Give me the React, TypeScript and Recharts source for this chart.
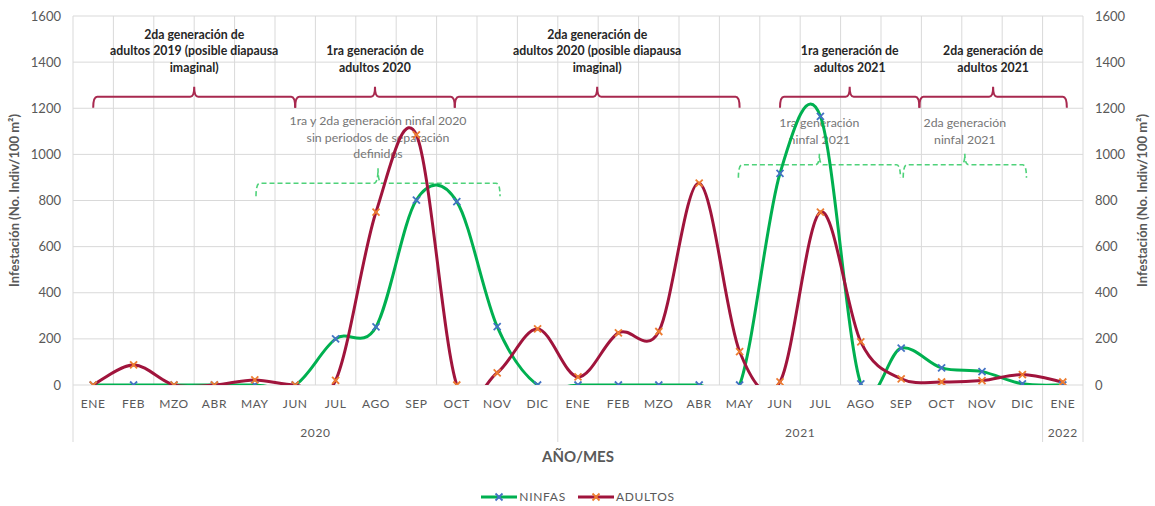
import { CartesianGrid, Label, Legend, Line, LineChart, ReferenceLine, XAxis, YAxis } from "recharts"

const months = [
  "ENE", "FEB", "MZO", "ABR", "MAY", "JUN", "JUL", "AGO", "SEP", "OCT", "NOV", "DIC",
  "ENE", "FEB", "MZO", "ABR", "MAY", "JUN", "JUL", "AGO", "SEP", "OCT", "NOV", "DIC",
  "ENE",
]
const years = ["2020", "2021", "2022"]
const yearFirst = [0, 12, 24]
const yearLast = [11, 23, 24]

const ninfas = [0, 0, 0, 0, 0, 0, 200, 252, 802, 795, 253, 0, 0, 0, 0, 0, 0, 918, 1165, 5, 160, 74, 58, 5, 0]
const adultos = [0, 87, 0, 0, 22, 0, 20, 750, 1085, 0, 53, 243, 35, 226, 232, 875, 145, 14, 750, 187, 27, 13, 19, 45, 13]

const yTicks = [0, 200, 400, 600, 800, 1000, 1200, 1400, 1600]

// adult generation braces (month index span) and their notes
const adultFrom = [0, 5, 8.95, 17, 20.45]
const adultTo = [5, 8.95, 16, 20.45, 24.1]
const adultLevel = 1250
const adultNotes = [
  ["2da generación de", "adultos 2019 (posible diapausa", "imaginal)"],
  ["1ra generación de", "adultos 2020"],
  ["2da generación de", "adultos 2020 (posible diapausa", "imaginal)"],
  ["1ra generación de", "adultos 2021"],
  ["2da generación de", "adultos 2021"],
]

// nymph generation braces
const ninfFrom = [4.03, 15.97, 20.05]
const ninfTo = [10.07, 19.98, 23.1]
const ninfLevel = [875, 955, 955]
const ninfNotes = [
  ["1ra y 2da generación ninfal 2020", "sin periodos de separación", "definidos"],
  ["1ra generación", "ninfal 2021"],
  ["2da generación", "ninfal 2021"],
]

const data = months.map((m, i) => ({ i, mes: m, ninfas: ninfas[i], adultos: adultos[i] }))

const FONT = "Lato, 'Open Sans', sans-serif"
const GREY = "#595959"

const separators = [yearFirst[0] - 0.5, ...yearLast.map((l) => l + 0.5)]
const yearCenters = yearFirst.map((f, k) => (f + yearLast[k]) / 2)
const axisTicks = Array.from(new Set([...months.map((_, i) => i), ...separators, ...yearCenters])).sort((a, b) => a - b)

// Excel-like smoothed line (Catmull-Rom through the points)
function smoothCurve(context: any) {
  let pts: number[][] = []
  return {
    areaStart() {},
    areaEnd() {},
    lineStart() {
      pts = []
    },
    point(x: number, y: number) {
      pts.push([+x, +y])
    },
    lineEnd() {
      const n = pts.length
      if (!n) return
      context.moveTo(pts[0][0], pts[0][1])
      for (let k = 0; k < n - 1; k++) {
        const p0 = pts[Math.max(k - 1, 0)]
        const p1 = pts[k]
        const p2 = pts[k + 1]
        const p3 = pts[Math.min(k + 2, n - 1)]
        context.bezierCurveTo(
          p1[0] + (p2[0] - p0[0]) / 6,
          p1[1] + (p2[1] - p0[1]) / 6,
          p2[0] - (p3[0] - p1[0]) / 6,
          p2[1] - (p3[1] - p1[1]) / 6,
          p2[0],
          p2[1]
        )
      }
    },
  }
}

function XMark({ cx, cy, color }: any) {
  if (cx == null || cy == null) return null
  const s = 3.5
  return (
    <g stroke={color} strokeWidth={1.8}>
      <line x1={cx - s} y1={cy - s} x2={cx + s} y2={cy + s} />
      <line x1={cx - s} y1={cy + s} x2={cx + s} y2={cy - s} />
    </g>
  )
}

function Brace(props: any) {
  const { x1, y1, x2, lines, color, dashed, drop, rise, gap, textColor, bold } = props
  if (x1 == null) return null
  const y = y1
  const xm = (x1 + x2) / 2
  const r = 4
  const d = `M${x1},${y + drop} Q${x1},${y} ${x1 + r},${y} L${xm - r},${y} Q${xm},${y} ${xm},${y - rise} Q${xm},${y} ${xm + r},${y} L${x2 - r},${y} Q${x2},${y} ${x2},${y + drop}`
  return (
    <g>
      <path d={d} fill="none" stroke={color} strokeWidth={dashed ? 1.6 : 2} strokeDasharray={dashed ? "5 3" : undefined} />
      {lines.map((t: string, k: number) => (
        <text
          key={k}
          x={xm}
          y={y - rise - gap - (lines.length - 1 - k) * 16.5}
          textAnchor="middle"
          dominantBaseline="middle"
          fontFamily={FONT}
          fontSize={12.3}
          fontWeight={bold ? 700 : 400}
          fill={textColor}
        >
          {t}
        </text>
      ))}
    </g>
  )
}

function MonthTick({ x, y, payload }: any) {
  const v = payload.value
  const out: any[] = []
  if (separators.includes(v)) {
    out.push(<line key="s" x1={x} x2={x} y1={y} y2={y + 57} stroke="#d9d9d9" strokeWidth={1} />)
  }
  if (Number.isInteger(v)) {
    out.push(
      <text key="m" x={x} y={y + 20} textAnchor="middle" dominantBaseline="middle" fontFamily={FONT} fontSize={12} letterSpacing={0.6} fill={GREY}>
        {months[v]}
      </text>
    )
  }
  const yi = yearCenters.indexOf(v)
  if (yi >= 0) {
    out.push(
      <text key="y" x={x} y={y + 49} textAnchor="middle" dominantBaseline="middle" fontFamily={FONT} fontSize={12} letterSpacing={0.6} fill={GREY}>
        {years[yi]}
      </text>
    )
  }
  return <g>{out}</g>
}

function LegendContent() {
  const items = [
    { name: "NINFAS", line: "#00B050", mark: "#4472C4" },
    { name: "ADULTOS", line: "#A0143C", mark: "#ED7D31" },
  ]
  return (
    <div style={{ display: "flex", justifyContent: "center", gap: 12, fontFamily: FONT, fontSize: 12, letterSpacing: 0.7, color: GREY }}>
      {items.map((it) => (
        <div key={it.name} style={{ display: "flex", alignItems: "center" }}>
          <svg width={36} height={12}>
            <line x1={0} x2={36} y1={6} y2={6} stroke={it.line} strokeWidth={3} />
            <XMark cx={18} cy={6} color={it.mark} />
          </svg>
          <span style={{ marginLeft: 2 }}>{it.name}</span>
        </div>
      ))}
    </div>
  )
}

const yLabel = "Infestación (No. Indiv/100 m²)"

export default function App() {
  return (
    <div style={{ position: "absolute", left: 0, top: 0, background: "#fff" }}>
      <LineChart width={1155} height={506} data={data} margin={{ top: 16, right: 12, bottom: 21, left: 13 }}>
        <CartesianGrid
          stroke="#d9d9d9"
          yAxisId="left"
          xAxisId="m"
          verticalCoordinatesGenerator={({ offset }: any) =>
            Array.from({ length: months.length + 1 }, (_, k) => offset.left + (k * offset.width) / months.length)
          }
        />
        <XAxis
          xAxisId="m"
          dataKey="i"
          type="number"
          domain={[-0.5, months.length - 0.5]}
          ticks={axisTicks}
          interval={0}
          tick={<MonthTick />}
          tickLine={false}
          axisLine={false}
          tickSize={0}
          tickMargin={0}
          height={80}
        >
          <Label value="AÑO/MES" position="insideBottom" offset={3} fontFamily={FONT} fontSize={15} fontWeight={700} fill={GREY} />
        </XAxis>
        <YAxis
          yAxisId="left"
          domain={[0, 1600]}
          ticks={yTicks}
          allowDataOverflow
          tickLine={false}
          axisLine={false}
          tickSize={0}
          tickMargin={12}
          width={60}
          tick={{ fontFamily: FONT, fontSize: 13, fill: GREY }}
        >
          <Label value={yLabel} angle={-90} position="insideLeft" offset={1} style={{ textAnchor: "middle" }} fontFamily={FONT} fontSize={13} fontWeight={700} fill={GREY} />
        </YAxis>
        <YAxis
          yAxisId="right"
          orientation="right"
          domain={[0, 1600]}
          ticks={yTicks}
          allowDataOverflow
          tickLine={false}
          axisLine={false}
          tickSize={0}
          tickMargin={12}
          width={60}
          tick={{ fontFamily: FONT, fontSize: 13, fill: GREY }}
        >
          <Label value={yLabel} angle={-90} position="insideRight" offset={1} style={{ textAnchor: "middle" }} fontFamily={FONT} fontSize={13} fontWeight={700} fill={GREY} />
        </YAxis>
        <Legend verticalAlign="bottom" content={<LegendContent />} wrapperStyle={{ bottom: -3, height: 20 }} />
        {adultFrom.map((f, k) => (
          <ReferenceLine
            key={"a" + k}
            xAxisId="m"
            yAxisId="left"
            ifOverflow="visible"
            segment={[{ x: f, y: adultLevel }, { x: adultTo[k], y: adultLevel }]}
            shape={(p: any) => (
              <Brace {...p} lines={adultNotes[k]} color="#A8294F" drop={11} rise={10} gap={18} textColor="#262626" bold />
            )}
          />
        ))}
        {ninfFrom.map((f, k) => (
          <ReferenceLine
            key={"n" + k}
            xAxisId="m"
            yAxisId="left"
            ifOverflow="visible"
            segment={[{ x: f, y: ninfLevel[k] }, { x: ninfTo[k], y: ninfLevel[k] }]}
            shape={(p: any) => (
              <Brace {...p} lines={ninfNotes[k]} color="#4FD27A" dashed drop={13} rise={k === 0 ? 15 : 11} gap={13} textColor="#767676" />
            )}
          />
        ))}
        <Line
          xAxisId="m"
          yAxisId="left"
          dataKey="ninfas"
          name="NINFAS"
          type={smoothCurve as any}
          stroke="#00B050"
          strokeWidth={3}
          dot={(p: any) => <XMark key={"dn" + p.index} cx={p.cx} cy={p.cy} color="#4472C4" />}
          activeDot={false}
          isAnimationActive={false}
        />
        <Line
          xAxisId="m"
          yAxisId="left"
          dataKey="adultos"
          name="ADULTOS"
          type={smoothCurve as any}
          stroke="#A0143C"
          strokeWidth={3}
          dot={(p: any) => <XMark key={"da" + p.index} cx={p.cx} cy={p.cy} color="#ED7D31" />}
          activeDot={false}
          isAnimationActive={false}
        />
      </LineChart>
    </div>
  )
}
